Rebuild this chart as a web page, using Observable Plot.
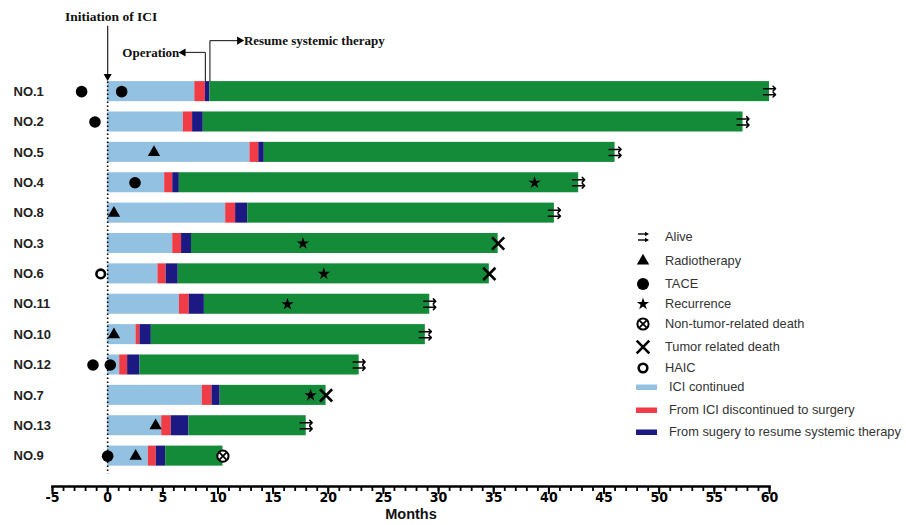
<!DOCTYPE html>
<html><head><meta charset="utf-8">
<script src="https://cdn.jsdelivr.net/npm/d3@7"></script>
<script src="https://cdn.jsdelivr.net/npm/@observablehq/plot@0.6"></script>
<style>
body{margin:0;background:#fff;}
#chart{position:relative;width:906px;height:525px;}
</style></head><body><div id="chart"></div>
<script>
// ---- data (months since initiation of ICI) ----
const patients = ["NO.1","NO.2","NO.5","NO.4","NO.8","NO.3","NO.6","NO.11","NO.10","NO.12","NO.7","NO.13","NO.9"];
const iciContinued = [7.9, 6.86, 12.9, 5.17, 10.7, 5.9, 4.56, 6.5, 2.57, 1.09, 8.58, 4.9, 3.69];
const surgery      = [8.86, 7.7, 13.7, 5.9, 11.6, 6.7, 5.3, 7.4, 2.93, 1.81, 9.46, 5.77, 4.41];
const resume       = [9.27, 8.67, 14.2, 6.5, 12.7, 7.6, 6.4, 8.77, 3.96, 2.93, 10.2, 7.37, 5.26];
const followUp     = [60, 57.6, 46.0, 42.7, 40.5, 35.4, 34.6, 29.2, 28.8, 22.8, 19.8, 18.0, 10.45];
const status       = ["alive","alive","alive","alive","alive","tumor","tumor","alive","alive","alive","tumor","alive","nontumor"];

const tacePatients = ["NO.1","NO.1","NO.2","NO.4","NO.12","NO.12","NO.9"];
const taceMonths   = [-2.36, 1.27, -1.15, 2.48, -1.33, 0.24, 0.0];
const radioPatients = ["NO.5","NO.8","NO.10","NO.13","NO.9"];
const radioMonths   = [4.2, 0.57, 0.57, 4.35, 2.54];
const recurrencePatients = ["NO.4","NO.3","NO.6","NO.11","NO.7"];
const recurrenceMonths   = [38.7, 17.7, 19.6, 16.3, 18.4];
const haicPatients = ["NO.6"];
const haicMonths   = [-0.63];

const phases = ["ICI continued","From ICI discontinued to surgery","From sugery to resume systemic therapy","Follow-up"];
const phaseColors = ["#93c1e1","#f03c46","#1c1a82","#148b38"];
const xTicks = d3.range(-5, 61, 5);
const xMinorTicks = d3.range(-5, 61, 1);
const legendLabels = ["Alive","Radiotherapy","TACE","Recurrence","Non-tumor-related death","Tumor related death","HAIC","ICI continued","From ICI discontinued to surgery","From sugery to resume systemic therapy"];
const legendKinds  = ["alive","triangle","circle","star","nontumor","times","ring","swatch","swatch","swatch"];

// ---- derived tables ----
const idx = Object.fromEntries(patients.map((p, i) => [p, i]));
const segments = patients.flatMap((p, i) => {
  const b = [0, iciContinued[i], surgery[i], resume[i], followUp[i]];
  return phases.map((ph, k) => ({i, phase: ph, x1: b[k], x2: b[k + 1]}));
});
const ev = (ps, ms) => ps.map((p, k) => ({i: idx[p], x: ms[k]}));
const ends = patients.map((p, i) => ({i, x: followUp[i], status: status[i]}));
const alive = ends.filter(d => d.status === "alive");
const tumor = ends.filter(d => d.status === "tumor");
const nontumor = ends.filter(d => d.status === "nontumor");

const serif = "'Liberation Serif','Times New Roman',serif";
const sans = "'Liberation Sans',Arial,sans-serif";
const narrow = "'Liberation Sans Narrow','DejaVu Sans Condensed','Liberation Sans',sans-serif";
const H = 0.33;
const annoStroke = "#333";

const chart = Plot.plot({
  width: 906, height: 525,
  marginLeft: 52, marginRight: 137, marginTop: 0, marginBottom: 39,
  x: {domain: [-5, 60]},
  y: {domain: [-3, 13], reverse: true},
  color: {domain: phases, range: phaseColors},
  style: {fontFamily: sans, background: "white", color: "black"},
  marks: [
    Plot.rectX(segments, {x1: "x1", x2: "x2", y1: d => d.i - H, y2: d => d.i + H, fill: "phase"}),
    // dotted line at ICI initiation
    Plot.ruleX([0], {y1: -0.45, y2: 12.6, stroke: "black", strokeWidth: 1.6, strokeDasharray: "1.6,2.4"}),
    // annotations
    Plot.text(["Initiation of ICI"], {x: 0.32, y: -2.47, text: d => d, fontFamily: serif, fontWeight: "bold", fontSize: 13.5, fill: "#111"}),
    Plot.link([0], {x1: 0, x2: 0, y1: -2.17, y2: -0.55, stroke: annoStroke, strokeWidth: 1.3}),
    Plot.dot([0], {x: 0, y: -0.5, symbol: "triangle", r: 3, rotate: 180, fill: "black"}),
    Plot.link([0], {x1: surgery[0], x2: surgery[0], y1: -H, y2: -1.29, stroke: annoStroke, strokeWidth: 1.2}),
    Plot.link([0], {x1: surgery[0], x2: 6.8, y1: -1.29, y2: -1.29, stroke: annoStroke, strokeWidth: 1.2}),
    Plot.dot([0], {x: 6.85, y: -1.29, symbol: "triangle", r: 3, rotate: -90, fill: "black"}),
    Plot.text(["Operation"], {x: 6.5, y: -1.29, text: d => d, textAnchor: "end", fontFamily: serif, fontWeight: "bold", fontSize: 13, fill: "#111"}),
    Plot.link([0], {x1: resume[0], x2: resume[0], y1: -H, y2: -1.68, stroke: annoStroke, strokeWidth: 1.2}),
    Plot.link([0], {x1: resume[0], x2: 11.9, y1: -1.68, y2: -1.68, stroke: annoStroke, strokeWidth: 1.2}),
    Plot.dot([0], {x: 11.95, y: -1.68, symbol: "triangle", r: 3, rotate: 90, fill: "black"}),
    Plot.text(["Resume systemic therapy"], {x: 12.35, y: -1.68, text: d => d, textAnchor: "start", fontFamily: serif, fontWeight: "bold", fontSize: 13, fill: "#111"}),
    // event markers
    Plot.dot(ev(tacePatients, taceMonths), {x: "x", y: "i", r: 5.8, fill: "black"}),
    Plot.dot(ev(radioPatients, radioMonths), {x: "x", y: "i", symbol: "triangle", r: 4.6, fill: "black"}),
    Plot.dot(ev(recurrencePatients, recurrenceMonths), {x: "x", y: "i", symbol: "star", r: 3.9, fill: "black"}),
    Plot.dot(ev(haicPatients, haicMonths), {x: "x", y: "i", r: 4.3, fill: "white", stroke: "black", strokeWidth: 2.6}),
    Plot.dot(tumor, {x: "x", y: "i", symbol: "times", r: 5.6, stroke: "black", strokeWidth: 2.6}),
    Plot.dot(nontumor, {x: "x", y: "i", r: 5.6, fill: "white", stroke: "black", strokeWidth: 2}),
    Plot.dot(nontumor, {x: "x", y: "i", symbol: "times", r: 3.2, stroke: "black", strokeWidth: 1.8}),
    Plot.vector(alive, {x: "x", y: "i", rotate: 90, length: 12, anchor: "middle", dy: -3, stroke: "black", strokeWidth: 1.5}),
    Plot.vector(alive, {x: "x", y: "i", rotate: 90, length: 12, anchor: "middle", dy: 3, stroke: "black", strokeWidth: 1.5}),
    // axes
    Plot.axisY({ticks: d3.range(patients.length), tickFormat: i => patients[i], tickSize: 0, tickPadding: 0, textAnchor: "start", dx: -39, fontSize: 13, fontWeight: "bold", fill: "#222", label: null}),
    Plot.axisX({ticks: xMinorTicks, tickSize: 5, strokeWidth: 1.8, tickFormat: () => "", label: null}),
    Plot.axisX({ticks: xTicks, tickSize: 8, strokeWidth: 2, tickPadding: -2, tickFormat: d => String(d), fontFamily: narrow, fontSize: 14, fontWeight: "bold", label: null}),
    Plot.frame({anchor: "bottom", strokeWidth: 2.5, stroke: "black"}),
    Plot.text(["Months"], {frameAnchor: "bottom", dy: 32, text: d => d, fontSize: 14.5, fontWeight: "bold", fill: "#111"})
  ]
});
document.getElementById("chart").appendChild(chart);

// ---- legend (drawn into the same SVG) ----
const svg = d3.select(chart);
const lg = svg.append("g").attr("font-family", sans).attr("font-size", 12.8).attr("fill", "#333").attr("text-anchor", "start");
const rowY = [237, 261, 284, 304, 324, 347, 368, 387, 410, 432];
const sx = 643;
let swatchK = 0;
legendLabels.forEach((label, k) => {
  const kind = legendKinds[k], y = rowY[k];
  const g = lg.append("g").attr("transform", `translate(${sx},${y})`);
  const sym = (type, r) => d3.symbol(type, Math.PI * r * r)();
  if (kind === "alive") {
    [-3, 3].forEach(o => {
      g.append("line").attr("x1", -5).attr("x2", 4).attr("y1", o).attr("y2", o).attr("stroke", "black").attr("stroke-width", 1.4);
      g.append("path").attr("d", `M6,${o}L2,${o - 2.2}L2,${o + 2.2}Z`).attr("fill", "black");
    });
  } else if (kind === "triangle") {
    g.append("path").attr("d", sym(d3.symbolTriangle, 4.6)).attr("fill", "black");
  } else if (kind === "circle") {
    g.append("circle").attr("r", 6).attr("fill", "black");
  } else if (kind === "star") {
    g.append("path").attr("d", sym(d3.symbolStar, 3.9)).attr("fill", "black");
  } else if (kind === "nontumor") {
    g.append("circle").attr("r", 5.6).attr("fill", "white").attr("stroke", "black").attr("stroke-width", 2);
    g.append("path").attr("d", sym(d3.symbolTimes, 3.2)).attr("fill", "none").attr("stroke", "black").attr("stroke-width", 1.8);
  } else if (kind === "times") {
    g.append("path").attr("d", sym(d3.symbolTimes, 5.8)).attr("fill", "none").attr("stroke", "black").attr("stroke-width", 2.6);
  } else if (kind === "ring") {
    g.append("circle").attr("r", 4.3).attr("fill", "white").attr("stroke", "black").attr("stroke-width", 2.6);
  } else if (kind === "swatch") {
    g.append("rect").attr("x", -7).attr("y", -2.5).attr("width", 21).attr("height", 5.5).attr("fill", phaseColors[swatchK++]);
  }
  lg.append("text").attr("x", kind === "swatch" ? 669 : 665).attr("y", y).attr("dy", "0.35em").text(label);
});
</script>
</body></html>
